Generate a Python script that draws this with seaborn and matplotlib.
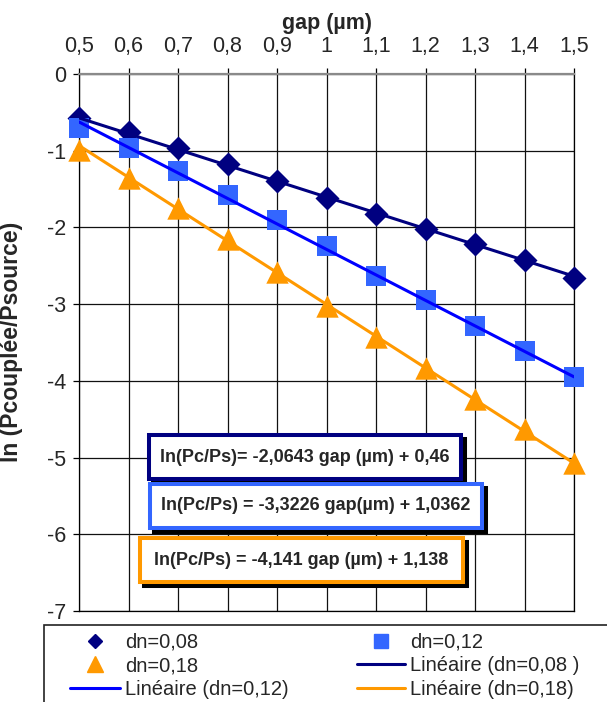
import numpy as np
import pandas as pd
import seaborn as sns
import matplotlib.pyplot as plt
from matplotlib.lines import Line2D
from matplotlib.patches import Rectangle

# measured points (gap in µm, ln(Pc/Ps))
gap = [0.5, 0.6, 0.7, 0.8, 0.9, 1.0, 1.1, 1.2, 1.3, 1.4, 1.5]
dn008 = [-0.58, -0.76, -0.96, -1.17, -1.40, -1.61, -1.82, -2.02, -2.22, -2.43, -2.66]
dn012 = [-0.70, -0.97, -1.27, -1.58, -1.90, -2.24, -2.63, -2.95, -3.28, -3.61, -3.95]
dn018 = [-0.99, -1.36, -1.75, -2.15, -2.58, -3.02, -3.43, -3.83, -4.23, -4.63, -5.07]

# linear trend coefficients (slope, intercept) shown in the boxes
fit008 = (-2.0643, 0.46)
fit012 = (-3.3226, 1.0362)
fit018 = (-4.141, 1.138)

eq_labels = ["ln(Pc/Ps)= -2,0643 gap (µm) + 0,46",
             "ln(Pc/Ps) = -3,3226 gap(µm) + 1,0362",
             "ln(Pc/Ps) = -4,141 gap (µm) + 1,138"]
xtick_labels = ["0,5", "0,6", "0,7", "0,8", "0,9", "1", "1,1", "1,2", "1,3", "1,4", "1,5"]

navy = "#000080"
sq_blue = "#3366FF"
line_blue = "#0000FF"
orange = "#FF9900"

sns.set_style("white")
plt.rcParams['font.family'] = ['Liberation Sans', 'DejaVu Sans']
plt.rcParams['axes.unicode_minus'] = False

fig = plt.figure(figsize=(6.07, 7.02), dpi=100)
ax = fig.add_axes([79 / 607, 1 - 611 / 702, 495 / 607, 537 / 702])

g = np.array(gap)
df = pd.DataFrame({"gap": gap, "dn008": dn008, "dn012": dn012, "dn018": dn018,
                   "fit008": fit008[0] * g + fit008[1],
                   "fit012": fit012[0] * g + fit012[1],
                   "fit018": fit018[0] * g + fit018[1]})

sns.lineplot(data=df, x="gap", y="fit008", color=navy, lw=2.2, ax=ax, zorder=4)
sns.lineplot(data=df, x="gap", y="fit012", color=line_blue, lw=2.2, ax=ax, zorder=4)
sns.lineplot(data=df, x="gap", y="fit018", color=orange, lw=2.2, ax=ax, zorder=4)
sns.scatterplot(data=df, x="gap", y="dn008", marker="D", s=150, color=navy, linewidth=0,
                ax=ax, zorder=3, clip_on=False)
sns.scatterplot(data=df, x="gap", y="dn012", marker="s", s=225, color=sq_blue, linewidth=0,
                ax=ax, zorder=3, clip_on=False)
sns.scatterplot(data=df, x="gap", y="dn018", marker="^", s=260, color=orange, linewidth=0,
                ax=ax, zorder=3, clip_on=False)

ax.set_xlim(0.5, 1.5)
ax.set_ylim(-7, 0)
ax.set_xticks(gap)
ax.set_xticklabels(xtick_labels)
ax.set_yticks(range(-7, 1))
ax.grid(True, color="#111111", lw=0.9)
ax.tick_params(axis="x", top=True, labeltop=True, bottom=False, labelbottom=False,
               direction="out", length=4.5, width=0.9, labelsize=15.5, color="black", pad=8)
ax.tick_params(axis="y", left=True, direction="out", length=4.5, width=0.9, labelsize=15.5,
               color="black", pad=5)
for s in ax.spines.values():
    s.set_color("black")
    s.set_linewidth(0.9)
ax.spines["top"].set_color("#8a8a8a")
ax.spines["top"].set_linewidth(1.6)
ax.xaxis.set_label_position("top")
ax.set_xlabel("gap (µm)", fontsize=15.5, fontweight="bold", labelpad=5)
ax.set_ylabel("ln (Pcouplée/Psource)", fontsize=16.5, fontweight="bold")
ax.yaxis.set_label_coords(-0.113, 0.502)

# equation boxes with drop shadow (axes fraction: x0, x1, y0, y1)
box_pos = [(0.1414, 0.7717, 0.2458, 0.3277),
           (0.1434, 0.8141, 0.1546, 0.2365),
           (0.1232, 0.7758, 0.0540, 0.1359)]
box_cols = [navy, sq_blue, orange]
dx, dy = 0.0081, 0.0074
for (x0, x1, y0, y1), col, txt in zip(box_pos, box_cols, eq_labels):
    ax.add_patch(Rectangle((x0 + dx, y0 - dy), x1 - x0, y1 - y0, transform=ax.transAxes,
                           fc="black", ec="black", lw=2.9, zorder=8))
    ax.add_patch(Rectangle((x0, y0), x1 - x0, y1 - y0, transform=ax.transAxes,
                           fc="white", ec=col, lw=2.9, zorder=9))
    ax.text((x0 + x1) / 2, (y0 + y1) / 2, txt, transform=ax.transAxes, ha="center", va="center",
            fontsize=13, fontweight="bold", zorder=10)

# legend: frame + two columns
fig.patches.append(Rectangle((44 / 607, -0.05), 0.98, 0.05 + 1 - 625 / 702,
                             transform=fig.transFigure, fill=False, ec="#222222", lw=1.2))
col1 = [
    Line2D([], [], ls="", marker="D", ms=7.6, color=navy, label="dn=0,08"),
    Line2D([], [], ls="", marker="^", ms=12, color=orange, label="dn=0,18"),
    Line2D([], [], color=line_blue, lw=2.2, label="Linéaire (dn=0,12)"),
]
col2 = [
    Line2D([], [], ls="", marker="s", ms=10, color=sq_blue, label="dn=0,12"),
    Line2D([], [], color=navy, lw=2.2, label="Linéaire (dn=0,08 )"),
    Line2D([], [], color=orange, lw=2.2, label="Linéaire (dn=0,18)"),
]
for hs, x_anchor, hl in [(col1, 70 / 607, 2.5), (col2, 357 / 607, 2.4)]:
    leg = fig.legend(handles=hs, loc="upper left", bbox_to_anchor=(x_anchor, 0.0989),
                     fontsize=14.5, frameon=False, handlelength=hl, handletextpad=0.25,
                     labelspacing=0.23, borderpad=0, borderaxespad=0)

fig.savefig("out.png", dpi=100)
